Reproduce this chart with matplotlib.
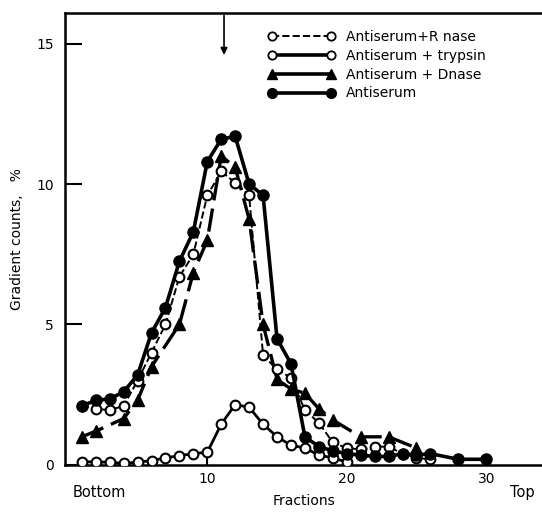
import matplotlib
matplotlib.use("Agg")
import matplotlib.pyplot as plt
from matplotlib.lines import Line2D

# fractions and gradient counts (%)
x_serum = [1, 2, 3, 4, 5, 6, 7, 8, 9, 10, 11, 12, 13, 14, 15, 16, 17, 18, 19, 20,
           21, 22, 23, 24, 25, 26, 28, 30]
y_serum = [2.1, 2.3, 2.35, 2.6, 3.2, 4.7, 5.6, 7.25, 8.3, 10.8, 11.6, 11.7, 10.0, 9.6, 4.5, 3.6, 1.0, 0.65, 0.5, 0.4,
           0.35, 0.3, 0.3, 0.4, 0.35, 0.4, 0.2, 0.2]

x_rnase = [1, 2, 3, 4, 5, 6, 7, 8, 9, 10, 11, 12, 13, 14, 15, 16, 17, 18, 19, 20,
           21, 22, 23, 24, 25, 26]
y_rnase = [2.1, 2.0, 1.95, 2.1, 3.0, 4.0, 5.0, 6.7, 7.5, 9.6, 10.45, 10.05, 9.6, 3.9, 3.4, 3.1, 1.95, 1.5, 0.8, 0.6,
           0.55, 0.65, 0.65, 0.4, 0.25, 0.2]

x_trypsin = [1, 2, 3, 4, 5, 6, 7, 8, 9, 10, 11, 12, 13, 14, 15, 16, 17, 18, 19, 20]
y_trypsin = [0.12, 0.1, 0.1, 0.05, 0.1, 0.15, 0.25, 0.33, 0.4, 0.45, 1.45, 2.15, 2.05, 1.45, 1.0, 0.7, 0.6, 0.35, 0.25, 0.1]

x_dnase = [1, 2, 4, 5, 6, 8, 9, 10, 11, 12, 13, 14, 15, 16, 17, 18, 19, 21, 23, 25]
y_dnase = [1.0, 1.2, 1.65, 2.3, 3.5, 5.0, 6.85, 8.0, 11.0, 10.6, 8.75, 5.0, 3.05, 2.7, 2.55, 2.0, 1.6, 1.0, 1.0, 0.6]

labels = ["Antiserum+R nase", "Antiserum + trypsin", "Antiserum + Dnase", "Antiserum"]
arrow_x = 11.2

fig = plt.figure(figsize=(5.42, 5.12), dpi=100)
ax = fig.add_axes([0.12, 0.092, 0.88, 0.883])

ms = 7
ax.plot(x_dnase, y_dnase, color="black", lw=2.4, dashes=(7, 2.5), marker="^", ms=ms + 1,
        mfc="black", mec="black", zorder=3)
ax.plot(x_rnase, y_rnase, color="black", lw=1.4, ls="--", marker="o", ms=ms,
        mfc="white", mec="black", mew=1.5, zorder=4)
ax.plot(x_trypsin, y_trypsin, color="black", lw=2.0, marker="o", ms=ms,
        mfc="white", mec="black", mew=1.5, zorder=4)
ax.plot(x_serum, y_serum, color="black", lw=2.6, marker="o", ms=ms + 1,
        mfc="black", mec="black", zorder=5)

# legend
handles = [
    Line2D([], [], color="black", lw=1.4, ls="--", marker="o", ms=6, mfc="white", mec="black", mew=1.3),
    Line2D([], [], color="black", lw=2.6, marker="o", ms=6, mfc="white", mec="black", mew=1.3),
    Line2D([], [], color="black", lw=2.6, marker="^", ms=7, mfc="black", mec="black"),
    Line2D([], [], color="black", lw=2.6, marker="o", ms=7, mfc="black", mec="black"),
]
ax.legend(handles, labels, loc="upper left", bbox_to_anchor=(0.40, 0.99), frameon=False,
          numpoints=2, handlelength=4.8, handletextpad=0.8, labelspacing=0.35, fontsize=10)

# arrow marking the peak position
ax.annotate("", xy=(arrow_x, 14.5), xytext=(arrow_x, 16.1),
            arrowprops=dict(arrowstyle="-|>", color="black", lw=1.2, mutation_scale=10))

ax.set_xlim(-0.2, 34)
ax.set_ylim(0, 16.1)
ax.set_xticks([10, 20, 30])
ax.set_yticks([0, 5, 10, 15])
ax.tick_params(axis="y", direction="in", length=12, width=1.5, labelsize=10, pad=8)
ax.tick_params(axis="x", direction="in", length=6, width=1.5, labelsize=10, pad=5)
for s in ["left", "bottom", "top"]:
    ax.spines[s].set_linewidth(1.8)
ax.spines["right"].set_visible(False)

ax.set_ylabel("Gradient counts,   %", fontsize=10, labelpad=9)
ax.set_xlabel("Fractions", fontsize=10, labelpad=6)
ax.text(0.015, -0.045, "Bottom", transform=ax.transAxes, fontsize=10.5, va="top", ha="left")
ax.text(0.985, -0.045, "Top", transform=ax.transAxes, fontsize=10.5, va="top", ha="right")

fig.savefig("out.png", dpi=100)
